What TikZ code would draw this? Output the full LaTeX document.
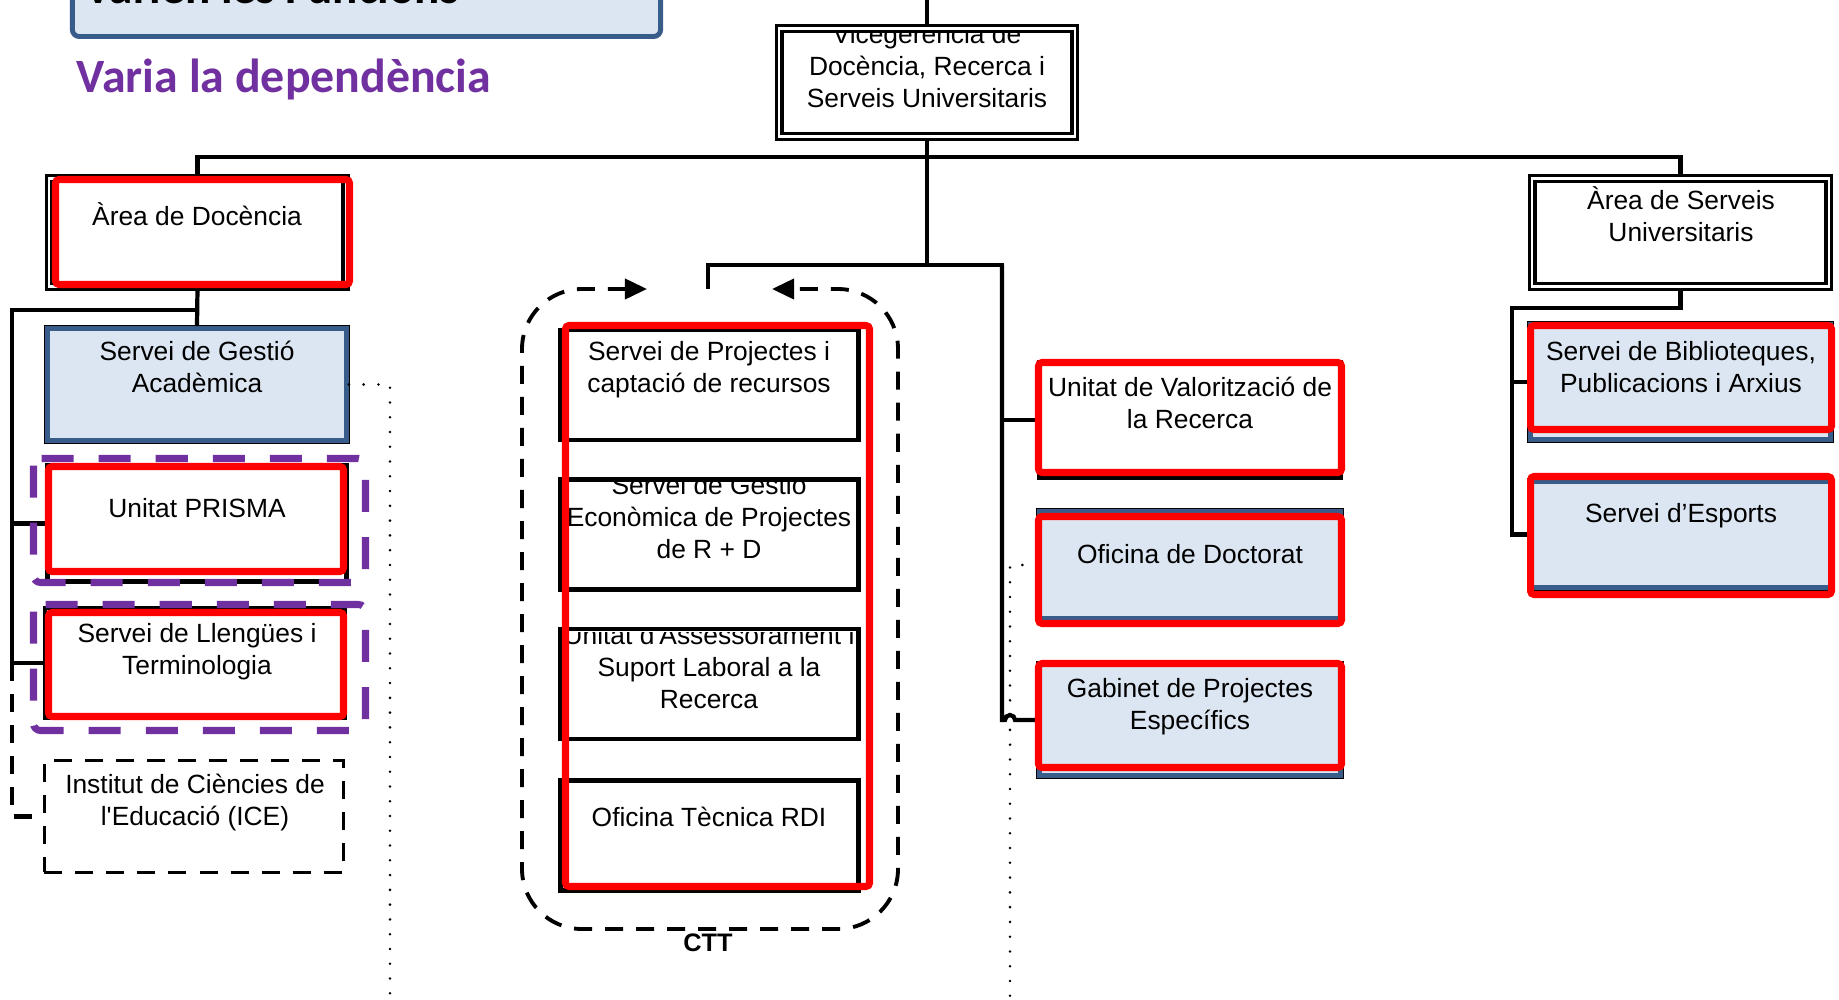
\documentclass[tikz,border=0pt]{standalone}
\usepackage{fontspec}
\setmainfont{Liberation Sans}
\newfontfamily\calibri{Carlito}
\usetikzlibrary{arrows.meta}

\definecolor{hlred}{RGB}{255,0,0}
\definecolor{grppurple}{RGB}{112,48,160}
\definecolor{boxfill}{RGB}{220,230,242}
\definecolor{boxline}{RGB}{56,93,138}

% strut so that every box text starts at the same height
\newcommand{\tp}{\rule{0pt}{7.2pt}}

\begin{document}
\begin{tikzpicture}[x=0.01cm, y=-0.01cm,
    font=\fontsize{7.5}{9.1}\selectfont,
    conn/.style={line width=1.2pt},
    txt/.style={align=center, anchor=north, inner sep=0pt},
    dblbox/.style={draw, double, double distance=0.6pt, line width=0.9pt, fill=white, inner sep=0pt},
    blkbox/.style={draw, line width=1.3pt, fill=white, inner sep=0pt},
    bluebox/.style={draw=boxline, line width=1.3pt, fill=boxfill, inner sep=0pt,
        preaction={draw=black, line width=2.1pt}},
    hl/.style={draw=hlred, line width=2pt, rounded corners=1pt},
    grp/.style={draw=grppurple, line width=2pt, dash pattern=on 0.32cm off 0.25cm, rounded corners=2pt},
    dotline/.style={line width=0.8pt, line cap=round, dash pattern=on 0pt off 4.2pt},
    cttloop/.style={line width=1.1pt, dash pattern=on 0.18cm off 0.13cm, rounded corners=0.6cm}]

    % Fix the page
    \useasboundingbox (0,0) rectangle (1839,1000);
    \fill[white] (0,0) rectangle (1839,1000);

    % Draw the header box and the headings
    \node[draw=boxline, line width=1.4pt, fill=boxfill, rounded corners=2pt,
        minimum width=5.88cm, minimum height=1.13cm, inner sep=0pt] (fbox) at (366.5,-20) {};
    \node[anchor=base west, inner sep=0pt, font=\calibri\bfseries\fontsize{13.4}{16}\selectfont]
        (vfun) at (84,4) {Varien les Funcions};
    \node[anchor=base west, inner sep=0pt, text=grppurple, font=\calibri\bfseries\fontsize{13.6}{16}\selectfont]
        (vdep) at (76,92) {Varia la dependència};

    % Draw the boxes
    \node[dblbox, minimum width=2.95cm, minimum height=1.08cm] (vice) at (927,82.5) {};
    \node[dblbox, minimum width=2.96cm, minimum height=1.08cm] (doc) at (197.5,232.5) {};
    \node[dblbox, minimum width=2.96cm, minimum height=1.08cm] (asu) at (1680.5,232.5) {};
    \node[bluebox, minimum width=2.99cm, minimum height=1.12cm] (sga) at (197,384.5) {};
    \node[blkbox, minimum width=2.99cm, minimum height=1.16cm] (pri) at (197,523.5) {};
    \node[blkbox, minimum width=3.0cm, minimum height=1.1cm] (sllt) at (195,663) {};
    \node[draw, line width=1pt, dash pattern=on 0.18cm off 0.13cm, minimum width=2.99cm,
        minimum height=1.115cm, inner sep=0pt] (ice) at (194,816.5) {};
    \foreach \name/\y in {spc/385, sge/534.5, uas/684, otr/835.5} {
        \node[blkbox, minimum width=2.98cm, minimum height=1.1cm] (\name) at (709.5,\y) {};
    }
    \node[blkbox, minimum width=3.02cm, minimum height=1.16cm] (uvr) at (1190,420) {};
    \node[bluebox, minimum width=3.01cm, minimum height=1.07cm] (odo) at (1190,565) {};
    \node[bluebox, minimum width=3.01cm, minimum height=1.11cm] (gpe) at (1190,720) {};
    \node[bluebox, minimum width=3.0cm, minimum height=1.15cm] (sbp) at (1680.5,382) {};
    \node[bluebox, minimum width=3.0cm, minimum height=1.06cm] (ses) at (1680.5,534.5) {};

    % Texts of the boxes (some are cut by the frame)
    \begin{scope}
        \clip (784,33) rectangle (1071,133);
        \node[txt] (vice-t) at (927,17) {\tp Vicegerència de\\Docència, Recerca i\\Serveis Universitaris};
    \end{scope}
    \node[txt] (doc-t) at (197,199) {\tp Àrea de Docència};
    \node[txt] (asu-t) at (1681,183) {\tp Àrea de Serveis\\Universitaris};
    \node[txt] (sga-t) at (197,334) {\tp Servei de Gestió\\Acadèmica};
    \node[txt] (pri-t) at (197,491) {\tp Unitat PRISMA};
    \node[txt] (sllt-t) at (197,616) {\tp Servei de Llengües i\\Terminologia};
    \node[txt] (ice-t) at (195,767) {\tp Institut de Ciències de\\l\textquotesingle Educació (ICE)};
    \node[txt] (spc-t) at (709,334) {\tp Servei de Projectes i\\captació de recursos};
    \begin{scope}
        \clip (560,482) rectangle (859,590);
        \node[txt] (sge-t) at (709,468) {\tp Servei de Gestió\\Econòmica de Projectes\\de R + D};
    \end{scope}
    \begin{scope}
        \clip (560,632) rectangle (859,739);
        \node[txt] (uas-t) at (709,618) {\tp Unitat d\textquotesingle Assessorament i\\Suport Laboral a la\\Recerca};
    \end{scope}
    \node[txt] (otr-t) at (709,800) {\tp Oficina Tècnica RDI};
    \node[txt] (uvr-t) at (1190,370) {\tp Unitat de Valorització de\\la Recerca};
    \node[txt] (odo-t) at (1190,537) {\tp Oficina de Doctorat};
    \node[txt] (gpe-t) at (1190,671) {\tp Gabinet de Projectes\\Específics};
    \node[txt] (sbp-t) at (1681,334) {\tp Servei de Biblioteques,\\Publicacions i Arxius};
    \node[txt] (ses-t) at (1681,496) {\tp Servei d’Esports};

    % Branch points
    \coordinate (top) at (927,0);
    \coordinate (bar) at (927,157);
    \coordinate (hub) at (927,265);
    \coordinate (ctt-in) at (708,289);
    \coordinate (rtr) at (1002,265);
    \coordinate (lsplit) at (197.5,310);
    \coordinate (ltr) at (12,310);
    \coordinate (rsplit) at (1680.5,308);
    \coordinate (rtr2) at (1512,308);
    \coordinate (ldot) at (390,1000);
    \coordinate (rdot) at (1010,1000);

    % Draw the connectors
    \draw[conn] (top) -- (vice.north);
    \draw[conn] (vice.south) -- (hub);
    \draw[conn] (doc.north) |- (bar) -| (asu.north);
    \draw[conn] (hub) -| (ctt-in);
    \draw[conn] (hub) -- (rtr) |- (uvr.west);
    \draw[conn] (rtr) -- (rtr |- gpe.west) -- ++(3,0) arc[start angle=180, end angle=360, radius=5] -- (gpe.west);
    \draw[conn] (doc.south) -- (sga.north);
    \draw[conn] (lsplit) -- (ltr) |- (sllt.west);
    \draw[conn] (ltr) |- (pri.west);
    \draw[conn, dash pattern=on 0.18cm off 0.13cm] (ltr |- sllt.west) |- (ice.west);
    \draw[conn] (asu.south) -- (rsplit) -- (rtr2) |- (ses.west);
    \draw[conn] (rtr2) |- (sbp.west);

    % Dotted links
    \draw[dotline] (sga.east) -| (ldot);
    \draw[dotline] (odo.west) -| (rdot);

    % CTT group
    \draw[cttloop, {Triangle[length=0.22cm,width=0.2cm]}-{Triangle[length=0.22cm,width=0.2cm]}]
        (647,289) -- (522,289) -- (522,929) -- (898,929) -- (898,289) -- (772,289);
    \node[font=\bfseries\fontsize{7.2}{8}\selectfont, inner sep=0pt] (ctt) at (708,943) {CTT};

    % Purple groups
    \draw[grp] (33.5,458.5) rectangle (365.5,582.5);
    \draw[grp] (33.5,604.5) rectangle (365.5,730.5);

    % Red marks
    \foreach \xa/\ya/\xb/\yb in {55.5/179.5/349.5/284.5, 48.5/466.5/343.5/571.5,
        48.5/612.5/343.5/716.5, 565.5/325.5/869.5/886.5, 1038.5/362.5/1341.5/472.5,
        1038.5/516.5/1341.5/623.5, 1038.5/663.5/1341.5/767.5,
        1530.5/325.5/1831.5/429.5, 1530.5/476.5/1831.5/594.5} {
        \draw[hl] (\xa,\ya) rectangle (\xb,\yb);
    }

\end{tikzpicture}
\end{document}
